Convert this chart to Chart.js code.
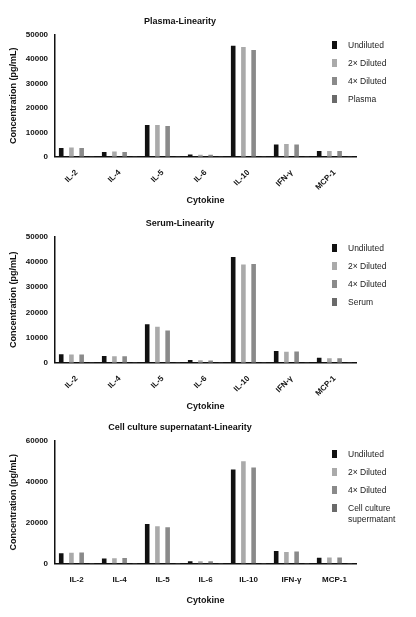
<!DOCTYPE html>
<html><head>
<script src="https://cdn.jsdelivr.net/npm/chart.js@4"></script>
<style>
body{margin:0;background:#fff;font-family:Arial,"Liberation Sans",sans-serif}
.panel{position:absolute;left:0;width:416px}
.legend{position:absolute;left:330px;font-size:8.5px;color:#222}
.legend div{position:relative;padding-left:18px;margin-bottom:7px;line-height:11px}
.legend span{position:absolute;left:2px;top:1px;width:5px;height:8px}
</style>
</head><body>
<div class="panel" style="top:16px;height:194px"><canvas id="c1"></canvas><div class="legend" id="l1" style="top:24px"></div></div>
<div class="panel" style="top:218px;height:198px"><canvas id="c2"></canvas><div class="legend" id="l2" style="top:25px"></div></div>
<div class="panel" style="top:422px;height:188px"><canvas id="c3"></canvas><div class="legend" id="l3" style="top:27px"></div></div>
<script>
const cytokines = ["IL-2", "IL-4", "IL-5", "IL-6", "IL-10", "IFN-γ", "MCP-1"];
const seriesNames = ["Undiluted", "2× Diluted", "4× Diluted"];
const colors = ["#111111", "#aaaaaa", "#8a8a8a", "#6a6a6a"];

const plasmaUndiluted = [3600, 2000, 13000, 900, 45500, 5000, 2400];
const plasma2x = [3800, 2200, 13000, 800, 45000, 5300, 2400];
const plasma4x = [3600, 2000, 12600, 800, 43800, 5000, 2400];
const plasmaMatrix = [100, 100, 100, 100, 100, 100, 100];

const serumUndiluted = [3400, 2700, 15300, 1100, 42000, 4700, 2000];
const serum2x = [3300, 2600, 14300, 1000, 39000, 4400, 1800];
const serum4x = [3300, 2600, 12800, 900, 39200, 4500, 1800];
const serumMatrix = [150, 150, 150, 150, 150, 150, 150];

const cellUndiluted = [5000, 2500, 19300, 1200, 46000, 6100, 2800];
const cell2x = [5300, 2600, 18300, 1200, 50000, 5700, 3000];
const cell4x = [5400, 2700, 17700, 1200, 47000, 5900, 3000];
const cellMatrix = [300, 300, 300, 300, 300, 300, 300];

function makeChart(id, legendId, title, matrixName, series, yMax, yStep, rotate) {
  const names = seriesNames.concat([matrixName]);
  const lg = document.getElementById(legendId);
  names.forEach((n, i) => {
    lg.innerHTML += `<div><span style="background:${colors[i]}"></span>${n.replace(" supermatant", "<br>supermatant")}</div>`;
  });
  new Chart(document.getElementById(id), {
    type: "bar",
    data: {
      labels: cytokines,
      datasets: series.map((d, i) => ({ label: names[i], data: d, backgroundColor: colors[i] }))
    },
    options: {
      responsive: true, maintainAspectRatio: false, animation: false,
      layout: { padding: { right: 60, left: 4 } },
      datasets: { bar: { categoryPercentage: 0.95, barPercentage: 0.45 } },
      plugins: {
        legend: { display: false },
        title: { display: true, text: title, color: "#111", font: { size: 9, weight: "bold" }, padding: { top: 0, bottom: 8 } }
      },
      scales: {
        x: {
          grid: { display: false, drawTicks: true },
          border: { color: "#111", width: 1.5 },
          ticks: { color: "#111", font: { size: 8, weight: "bold" }, maxRotation: rotate ? 45 : 0, minRotation: rotate ? 45 : 0 },
          title: { display: true, text: "Cytokine", color: "#111", font: { size: 9, weight: "bold" }, padding: { top: rotate ? 0 : 8 } }
        },
        y: {
          min: 0, max: yMax,
          grid: { display: false, drawTicks: true, tickLength: 4, tickColor: "#111" },
          border: { color: "#111", width: 1.5 },
          ticks: { stepSize: yStep, color: "#111", font: { size: 8, weight: "bold" }, callback: v => String(v) },
          title: { display: true, text: "Concentration (pg/mL)", color: "#111", font: { size: 9, weight: "bold" } }
        }
      }
    }
  });
}

makeChart("c1", "l1", "Plasma-Linearity", "Plasma", [plasmaUndiluted, plasma2x, plasma4x, plasmaMatrix], 50000, 10000, true);
makeChart("c2", "l2", "Serum-Linearity", "Serum", [serumUndiluted, serum2x, serum4x, serumMatrix], 50000, 10000, true);
makeChart("c3", "l3", "Cell culture supernatant-Linearity", "Cell culture supermatant", [cellUndiluted, cell2x, cell4x, cellMatrix], 60000, 20000, false);
</script>
</body></html>
